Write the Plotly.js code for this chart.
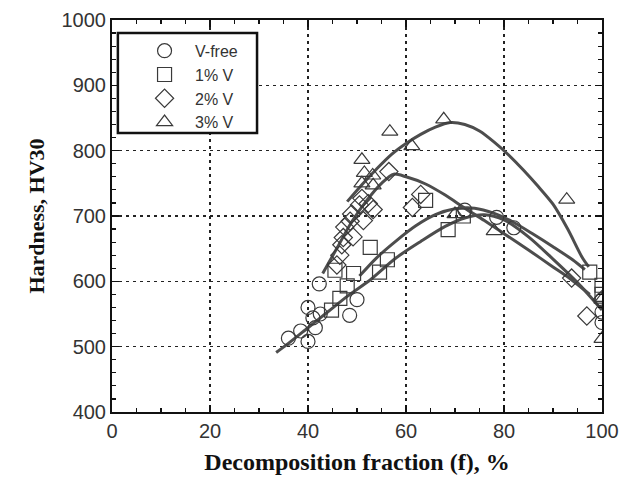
<!DOCTYPE html>
<html>
<head>
<meta charset="utf-8">
<script src="https://cdn.plot.ly/plotly-3.0.1.min.js"></script>
<style>html,body{margin:0;padding:0;background:#fff;}#chart{width:625px;height:482px;}</style>
</head>
<body>
<div id="chart"></div>
<script>
// ---- data ----
const seriesNames = ["V-free", "1% V", "2% V", "3% V"];

const vfreeX = [36, 38.5, 40, 40, 41, 41.5, 42.3, 42.5, 48.5, 50, 72, 78.5, 82, 100, 100, 100];
const vfreeY = [513, 524, 508, 560, 544, 529, 596, 550, 548, 572, 709, 698, 682, 572, 553, 537];

const v1X = [44.8, 46.5, 48, 45.5, 49.3, 52.7, 54.6, 56.2, 64, 68.6, 71.7, 97.5, 100, 100];
const v1Y = [556, 574, 593, 617, 612, 652, 614, 633, 724, 679, 700, 614, 594, 580];

const v2X = [45.9, 46.5, 46.9, 47.2, 47.5, 48.6, 48.9, 49.2, 50.5, 51, 51.3, 52.3, 53.3, 56.5, 61.3, 63, 93.8, 96.9, 100];
const v2Y = [625, 640, 656, 667, 683, 692, 703, 668, 717, 727, 693, 719, 710, 768, 713, 733, 605, 547, 572];

const v3X = [51, 51.5, 51, 53.2, 53.3, 56.7, 61.2, 67.7, 70, 78, 92.8, 100, 100];
const v3Y = [786, 766, 750, 762, 747, 829, 807, 848, 703, 677, 725, 572, 512];

// fitted trend curves
const fitVfreeX = [33.5, 36, 40, 44, 48, 53, 58, 63, 68, 72, 76, 80, 85, 90, 95, 100];
const fitVfreeY = [491, 505, 529, 553, 577, 604, 636, 661, 684, 697, 702, 694, 668, 634, 598, 556];
const fit1X = [50.5, 54, 58, 62, 66, 70, 74, 78, 82, 86, 90, 94, 96.5];
const fit1Y = [608, 636, 662, 685, 702, 711, 712, 704, 690, 672, 653, 633, 618];
const fit2X = [43, 46, 49, 52, 55, 57.5, 60, 64, 68, 72, 76, 80, 85, 90, 93.5, 97.5];
const fit2Y = [612, 652, 692, 724, 750, 764, 760, 749, 732, 712, 693, 673, 648, 622, 604, 580];
const fit3X = [48, 51, 54, 57, 60, 63, 66, 69, 72, 75, 78, 81, 84, 87, 90, 93, 96, 97.3];
const fit3Y = [722, 748, 772, 794, 811, 825, 836, 843, 840, 830, 813, 793, 770, 745, 718, 680, 636, 622];

const xTicks = [0, 20, 40, 60, 80, 100];
const yTicks = [400, 500, 600, 700, 800, 900, 1000];

// ---- build traces ----
const lineStyle = {color: "#4d4d4d", width: 3, shape: "spline", smoothing: 0.8};
const fits = [[fitVfreeX, fitVfreeY], [fit1X, fit1Y], [fit2X, fit2Y], [fit3X, fit3Y]];
const traces = fits.map(f => ({
  x: f[0], y: f[1], mode: "lines", line: lineStyle, showlegend: false, hoverinfo: "skip"
}));

const markerSets = [
  [vfreeX, vfreeY, "circle-open", 14],
  [v1X, v1Y, "square-open", 14],
  [v2X, v2Y, "diamond-open", 14],
  [v3X, v3Y, "triangle-up-open", 14]
];
markerSets.forEach((m, i) => {
  traces.push({
    x: m[0], y: m[1], mode: "markers", name: seriesNames[i],
    marker: {symbol: m[2], size: m[3], color: "#3a3a3a", line: {width: 1.2, color: "#3a3a3a"}}
  });
});

const axisCommon = {
  showline: true, linecolor: "#111", linewidth: 2, mirror: "allticks",
  ticks: "inside", ticklen: 7, tickwidth: 1.2, tickcolor: "#111",
  showgrid: true, gridcolor: "#222", gridwidth: 1.5, griddash: "3px,4px",
  zeroline: false,
  tickfont: {family: "Liberation Sans, Arial, sans-serif", size: 20, color: "#333"}
};

const layout = {
  width: 625, height: 482,
  margin: {l: 112, r: 23, t: 20, b: 70},
  paper_bgcolor: "#fff", plot_bgcolor: "#fff",
  xaxis: Object.assign({}, axisCommon, {
    range: [0, 100], tickvals: xTicks, ticktext: xTicks.map(String),
    minor: {dtick: 5, tick0: 0, ticks: "inside", ticklen: 4, tickcolor: "#111", showgrid: false},
    title: {text: "Decomposition fraction (f), %", standoff: 12,
      font: {family: "Liberation Serif, Times New Roman, serif", size: 24, color: "#111", weight: "bold"}}
  }),
  yaxis: Object.assign({}, axisCommon, {
    range: [400, 1000], tickvals: yTicks, ticktext: yTicks.map(String),
    minor: {dtick: 20, tick0: 400, ticks: "inside", ticklen: 4, tickcolor: "#111", showgrid: false},
    title: {text: "Hardness, HV30", standoff: 11,
      font: {family: "Liberation Serif, Times New Roman, serif", size: 22, color: "#111", weight: "bold"}}
  }),
  shapes: [{
    type: "rect", xref: "x", yref: "y", layer: "above",
    x0: 1.2, x1: 29.6, y0: 827, y1: 980,
    line: {color: "#111", width: 2.5}, fillcolor: "#fff"
  }],
  legend: {
    x: 0.045, y: 0.9648, xanchor: "left", yanchor: "top",
    bgcolor: "rgba(0,0,0,0)", borderwidth: 0,
    font: {family: "Liberation Sans, Arial, sans-serif", size: 16, color: "#333"},
    itemwidth: 51, tracegroupgap: 0
  },
  showlegend: true
};

Plotly.newPlot("chart", traces, layout, {staticPlot: true, displayModeBar: false});
</script>
</body>
</html>
